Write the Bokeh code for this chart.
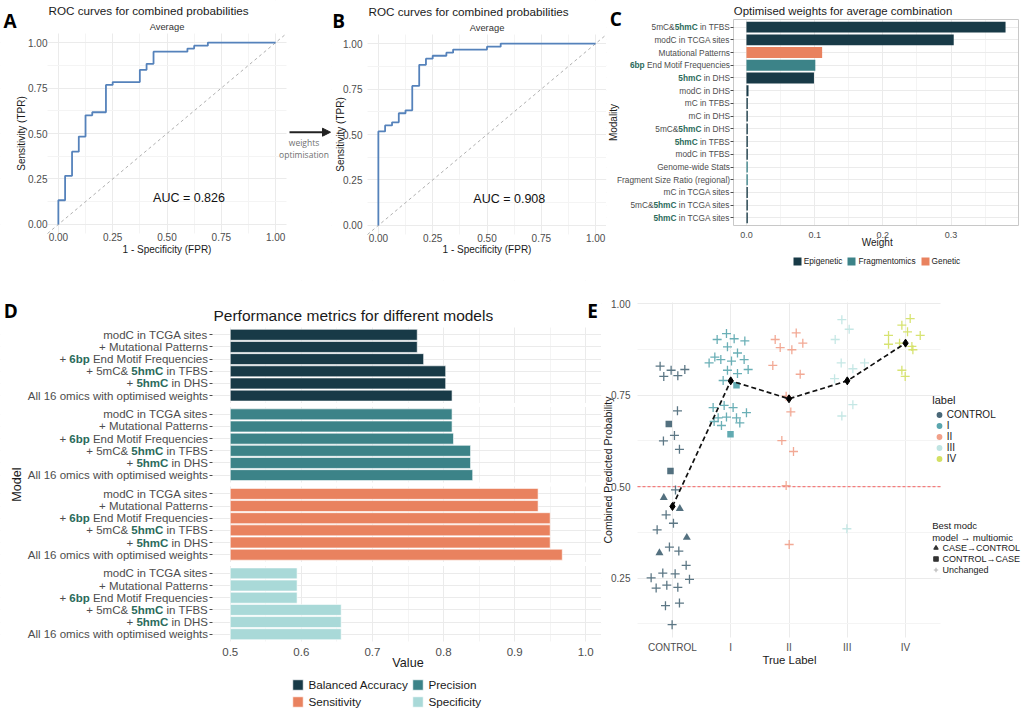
import numpy as np
from bokeh.plotting import figure
from bokeh.models import (Range1d, FixedTicker, NumeralTickFormatter, Label, LabelSet,
                          ColumnDataSource, Legend, LegendItem, Arrow, NormalHead)
from bokeh.layouts import row, column
from bokeh.core.properties import value
from bokeh.embed import file_html
from bokeh.resources import INLINE

# ------------------------------------------------------------------ data
ROC_A_FPR = [0.0, 0.031, 0.063, 0.094, 0.125, 0.156, 0.219, 0.250, 0.375, 0.406, 0.438, 0.594, 0.625, 0.688, 1.0]
ROC_A_TPR = [0.133, 0.267, 0.400, 0.483, 0.600, 0.617, 0.767, 0.783, 0.850, 0.883, 0.950, 0.967, 0.983, 1.0, 1.0]
AUC_A = "AUC = 0.826"
ROC_B_FPR = [0.0, 0.031, 0.063, 0.094, 0.125, 0.156, 0.188, 0.219, 0.250, 0.313, 0.344, 0.500, 0.563, 1.0]
ROC_B_TPR = [0.517, 0.550, 0.567, 0.617, 0.633, 0.767, 0.883, 0.917, 0.933, 0.950, 0.967, 0.983, 1.0, 1.0]
AUC_B = "AUC = 0.908"
ROC_TICKS = [0.0, 0.25, 0.5, 0.75, 1.0]

C_MODALITY = ["5mC&**5hmC** in TFBS", "modC in TCGA sites", "Mutational Patterns",
              "**6bp** End Motif Frequencies", "**5hmC** in DHS", "modC in DHS", "mC in TFBS",
              "mC in DHS", "5mC&**5hmC** in DHS", "**5hmC** in TFBS", "modC in TFBS",
              "Genome-wide Stats", "Fragment Size Ratio (regional)", "mC in TCGA sites",
              "5mC&**5hmC** in TCGA sites", "**5hmC** in TCGA sites"]
C_WEIGHT = [0.380, 0.304, 0.111, 0.101, 0.099, 0.003, 0.002, 0.002, 0.002, 0.002, 0.002,
            0.002, 0.002, 0.002, 0.002, 0.002]
C_TYPE = ["Epigenetic", "Epigenetic", "Genetic", "Fragmentomics", "Epigenetic", "Epigenetic",
          "Epigenetic", "Epigenetic", "Epigenetic", "Epigenetic", "Epigenetic", "Fragmentomics",
          "Fragmentomics", "Epigenetic", "Epigenetic", "Epigenetic"]
C_TYPES = ["Epigenetic", "Fragmentomics", "Genetic"]
C_TICKS = [0.0, 0.1, 0.2, 0.3]

D_METRICS = ["Balanced Accuracy", "Precision", "Sensitivity", "Specificity"]
D_MODELS = ["modC in TCGA sites", "+ Mutational Patterns", "+ **6bp** End Motif Frequencies",
            "+ 5mC& **5hmC** in TFBS", "+ **5hmC** in DHS", "All 16 omics with optimised weights"]
D_BALANCED_ACC = [0.763, 0.763, 0.772, 0.803, 0.803, 0.812]
D_PRECISION = [0.812, 0.812, 0.814, 0.838, 0.838, 0.841]
D_SENSITIVITY = [0.933, 0.933, 0.950, 0.950, 0.950, 0.967]
D_SPECIFICITY = [0.594, 0.594, 0.594, 0.656, 0.656, 0.656]
D_LOW = 0.5
D_TICKS = [0.5, 0.6, 0.7, 0.8, 0.9, 1.0]

E_GROUPS = ["CONTROL", "I", "II", "III", "IV"]
E_MEANS = [0.446, 0.789, 0.740, 0.789, 0.892]
E_THRESHOLD = 0.5
CTRL_X = [0.788, 0.851, 0.977, 1.092, 1.212, 1.086, 0.937, 1.034, 0.845, 1.120, 0.966, 1.052,
          0.851, 1.126, 0.891, 1.017, 0.737, 1.246, 0.777, 0.948, 1.109, 1.235, 0.634, 0.834,
          1.046, 1.292, 0.720, 0.903, 1.092, 0.880, 1.120, 0.994]
CTRL_P = [0.829, 0.801, 0.818, 0.803, 0.820, 0.707, 0.671, 0.640, 0.625, 0.602, 0.543, 0.491,
          0.470, 0.440, 0.423, 0.400, 0.382, 0.361, 0.319, 0.335, 0.324, 0.285, 0.251, 0.264,
          0.262, 0.247, 0.223, 0.231, 0.225, 0.175, 0.182, 0.123]
CTRL_S = ["U", "U", "U", "U", "U", "U", "S", "U", "U", "U", "S", "U",
          "T", "T", "U", "U", "U", "T", "T", "U", "U", "U", "U", "U",
          "U", "U", "U", "U", "U", "U", "U", "U"]
I_X = [1.767, 1.927, 2.059, 2.242, 1.944, 1.629, 1.727, 1.830, 2.013, 2.116, 2.230, 1.944,
       2.116, 2.299, 1.870, 2.099, 1.698, 1.887, 2.041, 2.270, 1.784, 1.927, 2.099, 1.715,
       1.841, 2.156, 1.996]
I_P = [0.902, 0.918, 0.904, 0.898, 0.882, 0.838, 0.854, 0.847, 0.843, 0.865, 0.847, 0.818,
       0.809, 0.820, 0.790, 0.777, 0.716, 0.722, 0.716, 0.702, 0.688, 0.690, 0.688, 0.678,
       0.667, 0.674, 0.643]
I_S = ["U", "U", "U", "U", "U", "U", "U", "U", "U", "U", "U", "U",
       "U", "U", "U", "S", "U", "U", "U", "U", "U", "U", "U", "U",
       "U", "U", "S"]
II_X = [2.763, 3.124, 2.849, 3.049, 3.237, 2.722, 3.192, 2.951, 3.031, 2.877, 3.077, 2.951, 3.003]
II_P = [0.902, 0.920, 0.880, 0.874, 0.892, 0.831, 0.807, 0.747, 0.704, 0.626, 0.596, 0.503, 0.342]
III_X = [3.907, 4.033, 3.793, 3.896, 4.096, 4.297, 3.782, 4.096, 3.907, 3.993]
III_P = [0.956, 0.930, 0.902, 0.838, 0.822, 0.838, 0.795, 0.724, 0.693, 0.385]
IV_X = [5.080, 4.937, 5.034, 5.252, 4.708, 4.708, 4.897, 5.109, 5.126, 4.937, 4.994]
IV_P = [0.959, 0.941, 0.923, 0.913, 0.913, 0.889, 0.892, 0.883, 0.874, 0.818, 0.801]
E_TICKS = [0.25, 0.5, 0.75, 1.0]
SHAPE_NAMES = {"T": "CASE\u2192CONTROL", "S": "CONTROL\u2192CASE", "U": "Unchanged"}

# ------------------------------------------------------------------ style
FONT = "Liberation Sans"
DARK = "#1a1a1a"
TICK_TXT = "#4d4d4d"
GRID = "#ebebeb"
GRID_MINOR = "#f4f4f4"
BOLD_GREEN = "#2b6b5b"
ROC_COLOR = "#5582bb"
C_COLORS = {"Epigenetic": "#183a47", "Fragmentomics": "#3c8388", "Genetic": "#e9825f"}
D_COLORS = ["#183a47", "#3c8388", "#e9825f", "#a9d9d8"]
E_COLORS = ["#4a6878", "#5aa6ae", "#f1a089", "#bfe4e2", "#d3e063"]
ROT = 1.5707963

HELV = {' ': 278, '&': 667, '(': 333, ')': 333, '+': 584, '-': 333, '.': 278,
        'A': 667, 'B': 667, 'C': 722, 'D': 722, 'E': 667, 'F': 611, 'G': 778, 'H': 722, 'I': 278,
        'J': 500, 'K': 667, 'L': 556, 'M': 833, 'N': 722, 'O': 778, 'P': 667, 'Q': 778, 'R': 722,
        'S': 667, 'T': 611, 'U': 722, 'V': 667, 'W': 944, 'X': 667, 'Y': 667, 'Z': 611,
        'a': 556, 'b': 556, 'c': 500, 'd': 556, 'e': 556, 'f': 278, 'g': 556, 'h': 556, 'i': 222,
        'j': 222, 'k': 500, 'l': 222, 'm': 833, 'n': 556, 'o': 556, 'p': 556, 'q': 556, 'r': 333,
        's': 500, 't': 278, 'u': 556, 'v': 500, 'w': 722, 'x': 500, 'y': 500, 'z': 500}
HELV_BOLD = {' ': 278, 'h': 611, 'm': 889, 'C': 722, 'b': 611, 'p': 611}


def text_width(s, size, bold=False):
    table = HELV_BOLD if bold else HELV
    return sum(table.get(ch, 556) for ch in s) * size / 1000.0


class Geo:
    """Canvas placement of one figure: page offset, canvas size, panel box and panel data range."""

    def __init__(self, pl, pt, w, h, fl, ft, fw, fh, xr, yr):
        self.pl, self.pt, self.w, self.h = pl, pt, w, h
        self.fl, self.ft, self.fw, self.fh = fl, ft, fw, fh
        self.xr, self.yr = xr, yr

    def full_x(self):
        s = (self.xr[1] - self.xr[0]) / self.fw
        return (self.xr[0] - self.fl * s, self.xr[1] + (self.w - self.fl - self.fw) * s)

    def full_y(self):
        s = (self.yr[1] - self.yr[0]) / self.fh
        return (self.yr[0] - (self.h - self.ft - self.fh) * s, self.yr[1] + self.ft * s)

    def x(self, px):
        return self.xr[0] + (px - self.pl - self.fl) / self.fw * (self.xr[1] - self.xr[0])

    def y(self, py):
        return self.yr[0] + (self.pt + self.ft + self.fh - py) / self.fh * (self.yr[1] - self.yr[0])

    def legend_loc(self, px_left, py_bottom):
        return (px_left - self.pl, self.pt + self.h - py_bottom)


def make_fig(g):
    p = figure(width=g.w, height=g.h, x_range=Range1d(*g.full_x()), y_range=Range1d(*g.full_y()),
               output_backend="svg", toolbar_location=None,
               min_border_left=0, min_border_top=0, min_border_right=0, min_border_bottom=0)
    p.title.visible = False
    p.outline_line_color = None
    p.background_fill_color = "white"
    p.border_fill_color = "white"
    p.xaxis[0].fixed_location = g.yr[0]
    p.yaxis[0].fixed_location = g.xr[0]
    return p


def mask_margins(p, g):
    """White out the grid outside the panel box (ggplot panels keep grids inside)."""
    fx0, fx1 = g.full_x()
    fy0, fy1 = g.full_y()
    x0, x1 = g.xr
    y0, y1 = g.yr
    p.quad(left=[fx0, x1, x0, x0], right=[x0, fx1, x1, x1], bottom=[fy0, fy0, fy0, y1],
           top=[fy1, fy1, y0, fy1], fill_color="white", line_color=None)


def style_axis(p, dim, ticks, minor, size, standoff, fmt=None, tick_out=0, labels=True,
               grid_minor=True):
    ax = p.xaxis[0] if dim == 0 else p.yaxis[0]
    gr = p.xgrid[0] if dim == 0 else p.ygrid[0]
    tk = FixedTicker(ticks=list(ticks), minor_ticks=list(minor))
    ax.ticker = tk
    gr.ticker = tk
    if fmt:
        ax.formatter = NumeralTickFormatter(format=fmt)
    ax.axis_line_color = None
    ax.minor_tick_line_color = None
    ax.major_tick_in = 0
    ax.major_tick_out = tick_out
    ax.major_tick_line_color = "#4d4d4d" if tick_out else None
    ax.major_label_standoff = standoff
    ax.major_label_text_font = FONT
    ax.major_label_text_font_size = f"{size}px"
    ax.major_label_text_color = TICK_TXT if labels else None
    gr.grid_line_color = GRID
    gr.grid_line_width = 1
    gr.minor_grid_line_color = GRID_MINOR if grid_minor else None
    return ax


def add_label(p, g, px, py, text, size, color=DARK, align="left", baseline="middle",
              angle=0.0, font=FONT, style="normal"):
    p.add_layout(Label(x=g.x(px), y=g.y(py), text=text, text_font=font,
                       text_font_size=f"{size}px", text_color=color, text_align=align,
                       text_baseline=baseline, angle=angle, text_font_style=style))


def rich_labels(p, x_anchor, ys, labels, size, pad, color=TICK_TXT, bold_color=BOLD_GREEN):
    cols = {False: dict(x=[], y=[], text=[], xo=[]), True: dict(x=[], y=[], text=[], xo=[])}
    for yv, lab in zip(ys, labels):
        runs = [(t, i % 2 == 1) for i, t in enumerate(lab.split("**")) if t]
        offset = pad
        for txt, bold in reversed(runs):
            trail = len(txt) - len(txt.rstrip(" "))
            vis = txt.strip(" ")
            if vis:
                right = offset + text_width(" " * trail, size, bold)
                d = cols[bold]
                d["x"].append(x_anchor)
                d["y"].append(yv)
                d["text"].append(vis)
                d["xo"].append(-right)
            offset += text_width(txt, size, bold)
    for bold, d in cols.items():
        p.add_layout(LabelSet(x="x", y="y", text="text", x_offset="xo",
                              source=ColumnDataSource(d), text_align="right",
                              text_baseline="middle", text_font=value(FONT),
                              text_font_size=f"{size}px",
                              text_font_style="bold" if bold else "normal",
                              text_color=bold_color if bold else color))


def staircase(fpr, tpr):
    xs, ys = [0.0], [0.0]
    prev = 0.0
    for f, t in zip(fpr, tpr):
        xs += [f, f]
        ys += [prev, t]
        prev = t
    return xs, ys


def letter(p, g, px, py, txt):
    add_label(p, g, px, py, txt, 19, color="#000000", baseline="alphabetic",
              font="Open Sans", style="bold")


def legend_key(p, **kw):
    """A renderer with no visible point, used only for a legend key."""
    return p.scatter(x=np.array([np.nan]), y=np.array([np.nan]), **kw)


def roc_panel(g, fpr, tpr, auc, title_py, strip_py, ytitle_px, auc_pos, x_standoff, y_standoff):
    p = make_fig(g)
    style_axis(p, 0, ROC_TICKS, [0.125, 0.375, 0.625, 0.875], 10, x_standoff, "0.00")
    style_axis(p, 1, ROC_TICKS, [0.125, 0.375, 0.625, 0.875], 10, y_standoff, "0.00")
    mask_margins(p, g)
    p.line(list(g.xr), list(g.xr), line_color="#a6a6a6", line_dash="3 3", line_width=0.9)
    xs, ys = staircase(fpr, tpr)
    p.line(xs, ys, line_color=ROC_COLOR, line_width=1.8)
    fl = g.pl + g.fl
    cx = fl + g.fw / 2
    add_label(p, g, fl + 1, title_py, "ROC curves for combined probabilities", 11.7)
    add_label(p, g, cx, strip_py, "Average", 9.4, color="#333333", align="center")
    add_label(p, g, ytitle_px, g.pt + g.ft + g.fh / 2, "Sensitivity (TPR)", 10,
              align="center", angle=ROT)
    add_label(p, g, cx, 249, "1 - Specificity (FPR)", 10, align="center")
    add_label(p, g, auc_pos[0], auc_pos[1], auc, 12.5, color="#111111", align="center")
    return p


# ------------------------------------------------------------------ A
gA = Geo(0, 0, 331, 280, 47, 33, 239, 200, (-0.05, 1.05), (-0.05, 1.05))
pA = roc_panel(gA, ROC_A_FPR, ROC_A_TPR, AUC_A, 9.5, 26, 20.5, (188.5, 197), -5, -4)
letter(pA, gA, 3, 20, "A")
pA.add_layout(Arrow(end=NormalHead(size=8, fill_color="#222222", line_color="#222222"),
                    x_start=gA.x(289), y_start=gA.y(131.7), x_end=gA.x(330), y_end=gA.y(131.7),
                    line_color="#222222", line_width=2))
add_label(pA, gA, 303.5, 141.7, "weights", 8.5, color="#707070", align="center", font="Open Sans")
add_label(pA, gA, 303.5, 154, "optimisation", 8.5, color="#707070", align="center",
          font="Open Sans")

# ------------------------------------------------------------------ B
gB = Geo(331, 0, 275, 280, 36, 34, 239, 200, (-0.05, 1.05), (-0.05, 1.05))
pB = roc_panel(gB, ROC_B_FPR, ROC_B_TPR, AUC_B, 10.5, 27.3, 339.5, (508.8, 198.3), -5, 1)
letter(pB, gB, 331.7, 20.7, "B")

# ------------------------------------------------------------------ C
nC = len(C_MODALITY)
gC = Geo(606, 0, 418, 280, 127, 19, 285, 206, (-0.019, 0.399), (nC - 1 + 0.6, -0.6))
pC = make_fig(gC)
c_idx = list(range(nC))
style_axis(pC, 0, C_TICKS, [0.05, 0.15, 0.25, 0.35], 9, 2, "0.0")
style_axis(pC, 1, c_idx, [], 8, 2, tick_out=3, labels=False, grid_minor=False)
mask_margins(pC, gC)
pC.quad(left=[gC.xr[0]], right=[gC.xr[1]], bottom=[gC.yr[0]], top=[gC.yr[1]],
        fill_color=None, line_color="#c8c8c8", line_width=1)
c_items = []
for t in C_TYPES:
    sel = [i for i in c_idx if C_TYPE[i] == t]
    r = pC.hbar(y=sel, left=0, right=[C_WEIGHT[i] for i in sel], height=0.86,
                fill_color=C_COLORS[t], line_color=None)
    c_items.append(LegendItem(label=t, renderers=[r]))
rich_labels(pC, gC.xr[0], c_idx, C_MODALITY, 8.3, 3.5)
pC.add_layout(Legend(items=c_items, location=gC.legend_loc(791.7, 266), orientation="horizontal",
                     glyph_width=10, glyph_height=10, label_height=10, label_width=10,
                     label_standoff=2, spacing=4, padding=0, margin=0,
                     border_line_color=None, background_fill_alpha=0,
                     label_text_font=FONT, label_text_font_size="8.3px",
                     label_text_color=DARK))
add_label(pC, gC, 733.3, 10, "Optimised weights for average combination", 11.4)
add_label(pC, gC, 876.7, 241.7, "Weight", 10, align="center")
add_label(pC, gC, 612.5, 122, "Modality", 10, align="center", angle=ROT)
letter(pC, gC, 609.3, 18.5, "C")

# ------------------------------------------------------------------ D
GROUP_STEP = 6.54
nM = len(D_MODELS)
d_end = (len(D_METRICS) - 1) * GROUP_STEP + nM - 1 + 0.6
gD = Geo(0, 280, 601, 434, 212, 47, 391, 314, (0.475, 1.025), (d_end, -0.6))
pD = make_fig(gD)
d_vals = [D_BALANCED_ACC, D_PRECISION, D_SENSITIVITY, D_SPECIFICITY]
d_pos_all, d_lab_all = [], []
for gi in range(len(D_METRICS)):
    d_pos_all += [gi * GROUP_STEP + i for i in range(nM)]
    d_lab_all += D_MODELS
style_axis(pD, 0, D_TICKS, [0.55, 0.65, 0.75, 0.85, 0.95], 11.5, 2, "0.0")
style_axis(pD, 1, d_pos_all, [], 8, 2, tick_out=3, labels=False, grid_minor=False)
mask_margins(pD, gD)
# facet gaps between the four metric panels
gap_lo = [gi * GROUP_STEP + nM - 1 + 0.6 for gi in range(len(D_METRICS) - 1)]
gap_hi = [(gi + 1) * GROUP_STEP - 0.6 for gi in range(len(D_METRICS) - 1)]
pD.quad(left=gD.xr[0], right=gD.xr[1], bottom=gap_lo, top=gap_hi, fill_color="white",
        line_color=None)
d_items = []
for gi, (metric, vals) in enumerate(zip(D_METRICS, d_vals)):
    pos = [gi * GROUP_STEP + i for i in range(nM)]
    r = pD.hbar(y=pos, left=D_LOW, right=vals, height=0.9, fill_color=D_COLORS[gi],
                line_color="white", line_width=0.6)
    d_items.append(LegendItem(label=metric, renderers=[r]))
rich_labels(pD, gD.xr[0], d_pos_all, d_lab_all, 11.5, 4.5)
for items, py_bottom in ((d_items[:2], 690.8), (d_items[2:], 707.5)):
    pD.add_layout(Legend(items=items, location=gD.legend_loc(291.4, py_bottom),
                         orientation="horizontal",
                         glyph_width=13, glyph_height=13, label_height=13, label_width=103,
                         label_standoff=4, spacing=0, padding=0, margin=0,
                         border_line_color=None, background_fill_alpha=0,
                         label_text_font=FONT, label_text_font_size="11.7px",
                         label_text_color=DARK))
add_label(pD, gD, 213, 315, "Performance metrics for different models", 15.5)
add_label(pD, gD, 407.5, 662.3, "Value", 12.6, align="center")
add_label(pD, gD, 16, 484, "Model", 12.6, align="center", angle=ROT)
letter(pD, gD, 3.3, 310, "D")
letter(pD, gD, 586.7, 310, "E")

# ------------------------------------------------------------------ E
gE = Geo(601, 280, 423, 434, 36, 22, 303, 335, (0.4, 5.6), (0.088, 1.003))
pE = make_fig(gE)
e_pos = [i + 1 for i in range(len(E_GROUPS))]
ax = style_axis(pE, 0, e_pos, [], 10, 4, grid_minor=False)
ax.major_label_overrides = {pos: name for pos, name in zip(e_pos, E_GROUPS)}
style_axis(pE, 1, E_TICKS, [0.125, 0.375, 0.625, 0.875], 10, 3, "0.00")
mask_margins(pE, gE)
pE.line(list(gE.xr), [E_THRESHOLD, E_THRESHOLD], line_color="#f47c7c", line_dash="3 2",
        line_width=1.2)
groups = [(CTRL_X, CTRL_P, CTRL_S), (I_X, I_P, I_S), (II_X, II_P, ["U"] * len(II_X)),
          (III_X, III_P, ["U"] * len(III_X)), (IV_X, IV_P, ["U"] * len(IV_X))]
pts = {"U": dict(x=[], y=[], c=[]), "T": dict(x=[], y=[], c=[]), "S": dict(x=[], y=[], c=[])}
for gi, (xs, ps, ss) in enumerate(groups):
    for xv, pv, sv in zip(xs, ps, ss):
        pts[sv]["x"].append(xv)
        pts[sv]["y"].append(pv)
        pts[sv]["c"].append(E_COLORS[gi])
pE.scatter("x", "y", source=ColumnDataSource(pts["U"]), marker="cross", size=9,
           line_color="c", line_width=1.3, line_alpha=0.9)
pE.scatter("x", "y", source=ColumnDataSource(pts["T"]), marker="triangle", size=8,
           fill_color="c", line_color=None, fill_alpha=0.95)
pE.scatter("x", "y", source=ColumnDataSource(pts["S"]), marker="square", size=6.5,
           fill_color="c", line_color=None, fill_alpha=0.95)
pE.line(e_pos, E_MEANS, line_color="#111111", line_width=1.7, line_dash="5 3")
pE.scatter(e_pos, E_MEANS, marker="diamond", size=8, fill_color="#000000", line_color="#000000")

leg1 = []
for name, col in zip(E_GROUPS, E_COLORS):
    r = legend_key(pE, marker="circle", size=5, fill_color=col, line_color=col, line_width=1.4)
    leg1.append(LegendItem(label=name, renderers=[r]))
pE.add_layout(Legend(items=leg1, location=gE.legend_loc(932.8, 464.3), orientation="vertical",
                     glyph_width=12, glyph_height=11, label_height=11, label_width=10,
                     label_standoff=2, spacing=0, padding=0, margin=0,
                     border_line_color=None, background_fill_alpha=0,
                     label_text_font=FONT, label_text_font_size="10px", label_text_color=DARK))
leg2 = []
for code, mk in (("T", "triangle"), ("S", "square"), ("U", "cross")):
    if mk == "cross":
        r = legend_key(pE, marker=mk, size=6, line_color="#b3b3b3", line_width=1.1)
    else:
        r = legend_key(pE, marker=mk, size=6, fill_color="#333333", line_color="#333333",
                       line_width=1.2)
    leg2.append(LegendItem(label=SHAPE_NAMES[code], renderers=[r]))
pE.add_layout(Legend(items=leg2, location=gE.legend_loc(929.5, 575.2), orientation="vertical",
                     glyph_width=11, glyph_height=11, label_height=11, label_width=10,
                     label_standoff=2, spacing=0, padding=0, margin=0,
                     border_line_color=None, background_fill_alpha=0,
                     label_text_font=FONT, label_text_font_size="9px", label_text_color=DARK))
add_label(pE, gE, 931.7, 399.3, "label", 11)
add_label(pE, gE, 931.7, 525, "Best modc", 9.5)
add_label(pE, gE, 931.7, 536.5, "model \u2192 multiomic", 9.5)
add_label(pE, gE, 788.9, 659, "True Label", 11.4, align="center")
add_label(pE, gE, 607.5, 469.5, "Combined Predicted Probability", 10.5, align="center", angle=ROT)

layout = column(row(pA, pB, pC), row(pD, pE))
open("out.html", "w").write(file_html(layout, INLINE, "chart"))
